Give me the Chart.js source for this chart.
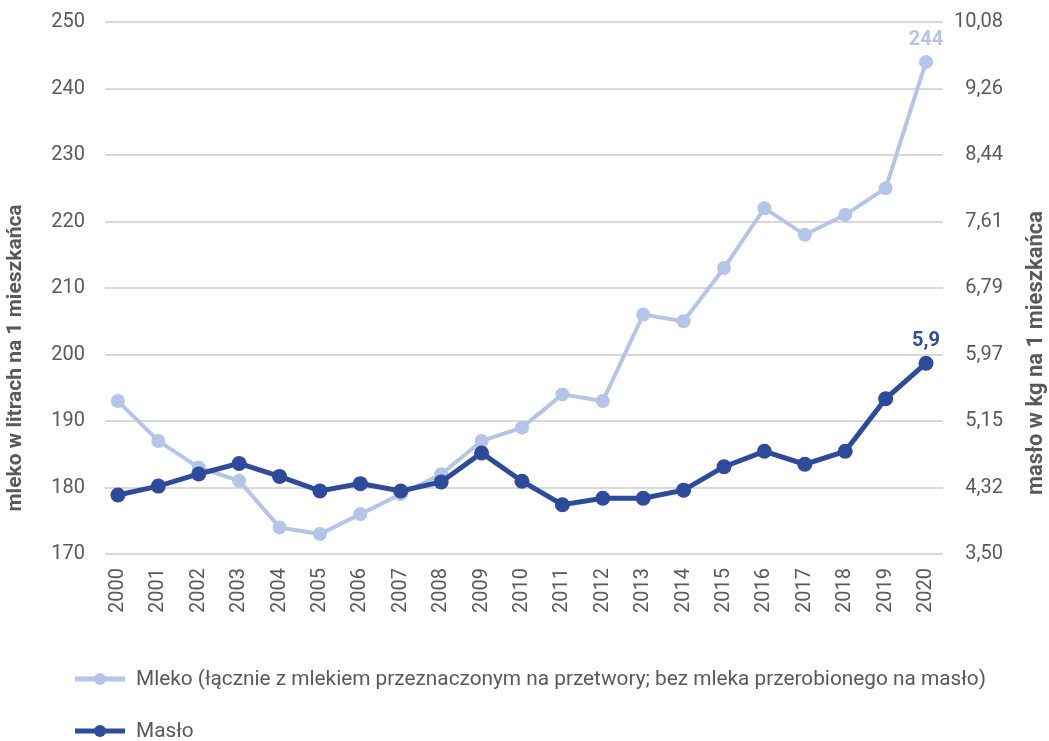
<!DOCTYPE html>
<html lang="pl">
<head>
<meta charset="utf-8">
<script src="https://cdn.jsdelivr.net/npm/chart.js@4.4.0/dist/chart.umd.min.js"></script>
<style>
    html, body { margin: 0; padding: 0; background: #fff; }
</style>
</head>
<body>
<canvas id="chart" width="1049" height="741"></canvas>
<script>
// Data
const years = [2000, 2001, 2002, 2003, 2004, 2005, 2006, 2007, 2008, 2009, 2010,
    2011, 2012, 2013, 2014, 2015, 2016, 2017, 2018, 2019, 2020];

// Mleko, litres per inhabitant (left axis)
const mleko = [193, 187, 183, 181, 174, 173, 176, 179, 182, 187, 189,
    194, 193, 206, 205, 213, 222, 218, 221, 225, 244];

// Masło, kg per inhabitant (right axis)
const maslo = [4.23, 4.34, 4.49, 4.62, 4.46, 4.28, 4.37, 4.28, 4.39, 4.75, 4.40,
    4.11, 4.19, 4.19, 4.29, 4.58, 4.77, 4.61, 4.77, 5.42, 5.86];

const leftTicks = [170, 180, 190, 200, 210, 220, 230, 240, 250];
const rightTicks = [3.5, 4.3225, 5.145, 5.9675, 6.79, 7.6125, 8.435, 9.2575, 10.08];
const rightTickLabels = ['3,50', '4,32', '5,15', '5,97', '6,79', '7,61', '8,44', '9,26', '10,08'];

const seriesNames = [
    'Mleko (łącznie z mlekiem przeznaczonym na przetwory; bez mleka przerobionego na masło)',
    'Masło'
];
const leftTitle = 'mleko w litrach na 1 mieszkańca';
const rightTitle = 'masło w kg na 1 mieszkańca';

const LIGHT = '#b4c5e7';
const DARK = '#2e4a9b';
const TEXT = '#595959';
const FONT = 'Roboto, "Noto Sans", sans-serif';

// Axis titles (both read bottom to top), value labels and the stacked legend
const extrasPlugin = {
    id: 'extras',
    afterDraw(chart) {
        const ctx = chart.ctx;
        ctx.save();

        // axis titles
        ctx.fillStyle = TEXT;
        ctx.textAlign = 'center';
        ctx.textBaseline = 'middle';
        [[leftTitle, 16, 358, 21], [rightTitle, 1036, 353, 22]].forEach(([text, x, y, size]) => {
            ctx.save();
            ctx.font = 'bold ' + size + 'px ' + FONT;
            ctx.translate(x, y);
            ctx.rotate(-Math.PI / 2);
            ctx.fillText(text, 0, 0);
            ctx.restore();
        });

        // labels on the last points
        ctx.font = 'bold 20px ' + FONT;
        ctx.textBaseline = 'alphabetic';
        chart.data.datasets.forEach((ds, i) => {
            const meta = chart.getDatasetMeta(i);
            const last = meta.data[meta.data.length - 1];
            const v = ds.data[ds.data.length - 1].y;
            const text = i === 0 ? String(Math.round(v)) : v.toFixed(1).replace('.', ',');
            ctx.fillStyle = ds.borderColor;
            ctx.fillText(text, last.x, last.y - 17);
        });

        // legend, one entry per row
        ctx.font = '20.8px ' + FONT;
        ctx.textAlign = 'left';
        ctx.textBaseline = 'middle';
        chart.data.datasets.forEach((ds, i) => {
            const y = 679 + i * 52;
            ctx.strokeStyle = ds.borderColor;
            ctx.lineWidth = 5;
            ctx.beginPath();
            ctx.moveTo(75, y);
            ctx.lineTo(125, y);
            ctx.stroke();
            ctx.fillStyle = ds.borderColor;
            ctx.beginPath();
            ctx.arc(100, y, 6, 0, Math.PI * 2);
            ctx.fill();
            ctx.fillStyle = TEXT;
            ctx.fillText(ds.label, 136, y + 1);
        });

        ctx.restore();
    }
};

// Keep the tick labels from pushing the plot area down
const noLabelPadding = scale => {
    scale.paddingTop = 0;
    scale.paddingBottom = 0;
};

const ctx = document.getElementById('chart').getContext('2d');

new Chart(ctx, {
    type: 'line',
    data: {
        datasets: [
            {
                label: seriesNames[0],
                data: years.map((yr, i) => ({ x: yr, y: mleko[i] })),
                yAxisID: 'y',
                borderColor: LIGHT,
                backgroundColor: LIGHT,
                borderWidth: 4,
                pointRadius: 7,
                pointBorderWidth: 0,
                tension: 0,
                order: 1
            },
            {
                label: seriesNames[1],
                data: years.map((yr, i) => ({ x: yr, y: maslo[i] })),
                yAxisID: 'y1',
                borderColor: DARK,
                backgroundColor: DARK,
                borderWidth: 5,
                pointRadius: 7.5,
                pointBorderWidth: 0,
                tension: 0,
                order: 0
            }
        ]
    },
    options: {
        responsive: false,
        animation: false,
        layout: {
            padding: { top: 22, right: 46, left: 0, bottom: 0 }
        },
        plugins: {
            legend: { display: false },
            tooltip: { enabled: false }
        },
        scales: {
            x: {
                type: 'linear',
                min: 1999.68,
                max: 2020.42,
                afterBuildTicks: scale => { scale.ticks = years.map(v => ({ value: v })); },
                afterFit: scale => { scale.height = 187; },
                grid: { display: false, drawTicks: false },
                border: { display: false },
                ticks: {
                    autoSkip: false,
                    minRotation: 90,
                    maxRotation: 90,
                    padding: 14,
                    color: TEXT,
                    font: { family: FONT, size: 20 },
                    callback: v => String(v)
                }
            },
            y: {
                position: 'left',
                min: 170,
                max: 250,
                afterBuildTicks: scale => { scale.ticks = leftTicks.map(v => ({ value: v })); },
                afterFit: scale => { scale.width = 105; noLabelPadding(scale); },
                grid: { color: '#d9d9d9', lineWidth: 2, drawTicks: false },
                border: { display: false },
                ticks: {
                    padding: 20,
                    color: TEXT,
                    font: { family: FONT, size: 20 }
                }
            },
            y1: {
                position: 'right',
                min: 3.5,
                max: 10.08,
                afterBuildTicks: scale => { scale.ticks = rightTicks.map(v => ({ value: v })); },
                afterFit: scale => { scale.width = 60; noLabelPadding(scale); },
                grid: { display: false, drawTicks: false },
                border: { display: false },
                ticks: {
                    crossAlign: 'far',
                    color: TEXT,
                    font: { family: FONT, size: 20 },
                    callback: (v, i) => rightTickLabels[i]
                }
            }
        }
    },
    plugins: [extrasPlugin]
});
</script>
</body>
</html>
